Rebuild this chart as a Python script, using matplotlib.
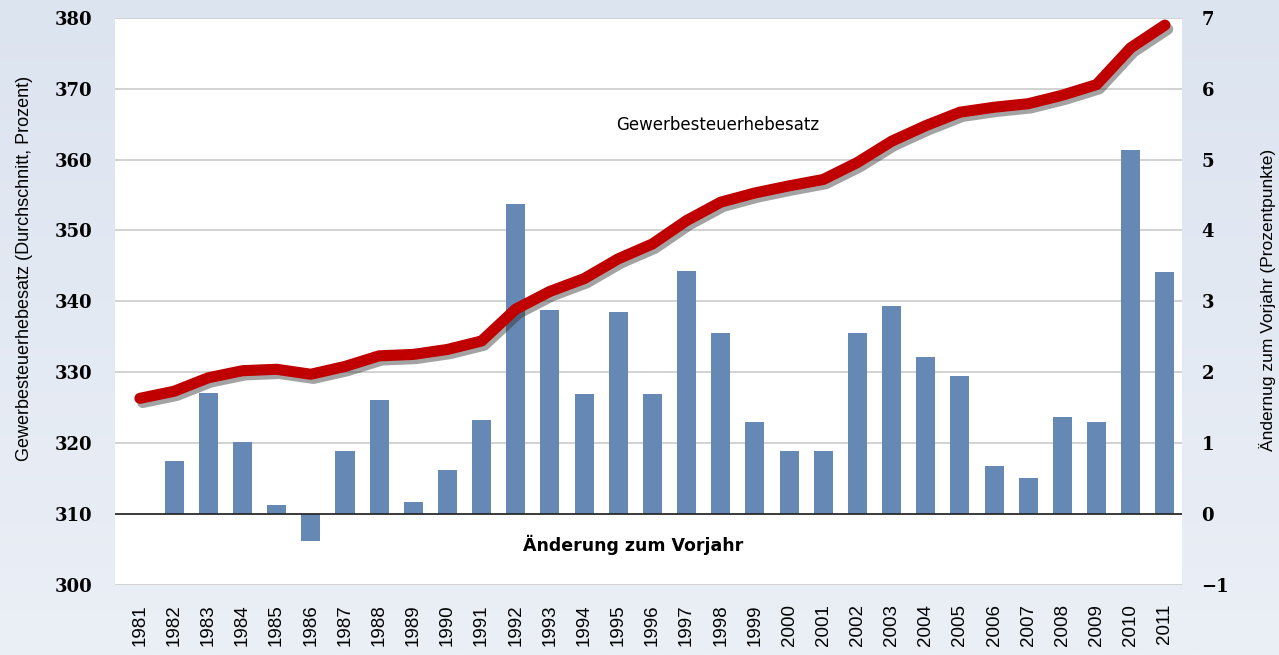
import matplotlib
matplotlib.use("Agg")
import matplotlib.pyplot as plt
import matplotlib.patheffects as pe
from matplotlib.colors import LinearSegmentedColormap
import numpy as np

years = [str(y) for y in range(1981, 2012)]
hebesatz = [326.3, 327.3, 329.2, 330.2, 330.4, 329.7, 330.8, 332.3, 332.5, 333.2,
            334.4, 338.9, 341.4, 343.2, 346.0, 348.1, 351.4, 354.0, 355.3, 356.3,
            357.2, 359.6, 362.6, 364.8, 366.7, 367.4, 367.9, 369.1, 370.6, 375.8,
            379.0]
aenderung = [0.0, 0.74, 1.71, 1.02, 0.13, -0.39, 0.89, 1.60, 0.17, 0.62,
             1.32, 4.38, 2.88, 1.69, 2.85, 1.69, 3.43, 2.55, 1.29, 0.89,
             0.89, 2.55, 2.93, 2.22, 1.95, 0.68, 0.51, 1.36, 1.30, 5.14,
             3.41]
left_ticks = [300, 310, 320, 330, 340, 350, 360, 370, 380]
right_ticks = [-1, 0, 1, 2, 3, 4, 5, 6, 7]

W, H = 1279, 655
fig = plt.figure(figsize=(W / 100, H / 100), dpi=100)

# background gradient
bg = fig.add_axes([0, 0, 1, 1], zorder=-10)
grad = np.linspace(0, 1, 256).reshape(-1, 1)
cmap = LinearSegmentedColormap.from_list("bg", ["#DCE4F0", "#EBEFF6"])
bg.imshow(grad, aspect="auto", cmap=cmap, extent=[0, 1, 0, 1])
bg.axis("off")

left, right = 115 / W, 1182 / W
top = 1 - 18 / H
bottom = 1 - 584.6 / H
ax = fig.add_axes([left, bottom, right - left, top - bottom])
ax.set_facecolor("white")
ax2 = ax.twinx()

x = np.arange(len(years))
XL = (-0.73, 30.5)

# bars on right axis
ax2.set_ylim(-1, 7)
ax2.set_xlim(*XL)
ax2.bar(x, aenderung, width=0.56, color="#6688B4", zorder=3)
ax2.axhline(0, color="#222222", lw=1.2, zorder=4)

ax.set_ylim(300, 380)
ax.set_xlim(*XL)
ax.set_yticks(left_ticks)
ax.grid(axis="y", color="#CFCFCF", lw=1.3)
ax.set_axisbelow(True)

# line above bars on a third axes sharing the left scale
ax3 = ax.twinx()
ax3.set_ylim(300, 380)
ax3.set_xlim(*XL)
ax3.plot(x, hebesatz, color="#C00000", lw=8, solid_capstyle="round",
         solid_joinstyle="round",
         path_effects=[pe.SimpleLineShadow(offset=(2, -3), shadow_color="#333333", alpha=0.45),
                       pe.Normal()])
ax3.axis("off")

for a in (ax, ax2):
    for s in a.spines.values():
        s.set_visible(False)
    a.tick_params(length=0)

ax.set_xticks(x)
ax.set_xticklabels(years, rotation=90, fontsize=13.5, family="Liberation Sans",
                   va="top")
ax.tick_params(axis="x", pad=14)
ax.set_yticklabels([str(v) for v in left_ticks], fontsize=13, family="DejaVu Serif",
                   fontweight="bold")
ax.tick_params(axis="y", pad=16)
ax2.set_yticks(right_ticks)
ax2.set_yticklabels(["\u22121" if v < 0 else str(v) for v in right_ticks], fontsize=13,
                    family="DejaVu Serif", fontweight="bold")
ax2.tick_params(axis="y", pad=14)

fig.text(25 / W, 1 - 268 / H, "Gewerbesteuerhebesatz (Durchschnitt, Prozent)",
         rotation=90, ha="center", va="center", fontsize=13, family="Liberation Sans")
fig.text(1268 / W, 1 - 300 / H, "Ändernug zum Vorjahr (Prozentpunkte)",
         rotation=90, ha="center", va="center", fontsize=12.5, family="Liberation Sans")

fig.text(718 / W, 1 - 125 / H, "Gewerbesteuerhebesatz", ha="center", va="center",
         fontsize=12, family="DejaVu Sans")
fig.text(633 / W, 1 - 545 / H, "Änderung zum Vorjahr", ha="center", va="center",
         fontsize=12.5, family="DejaVu Sans", fontweight="bold")

fig.savefig("out.png", dpi=100)
